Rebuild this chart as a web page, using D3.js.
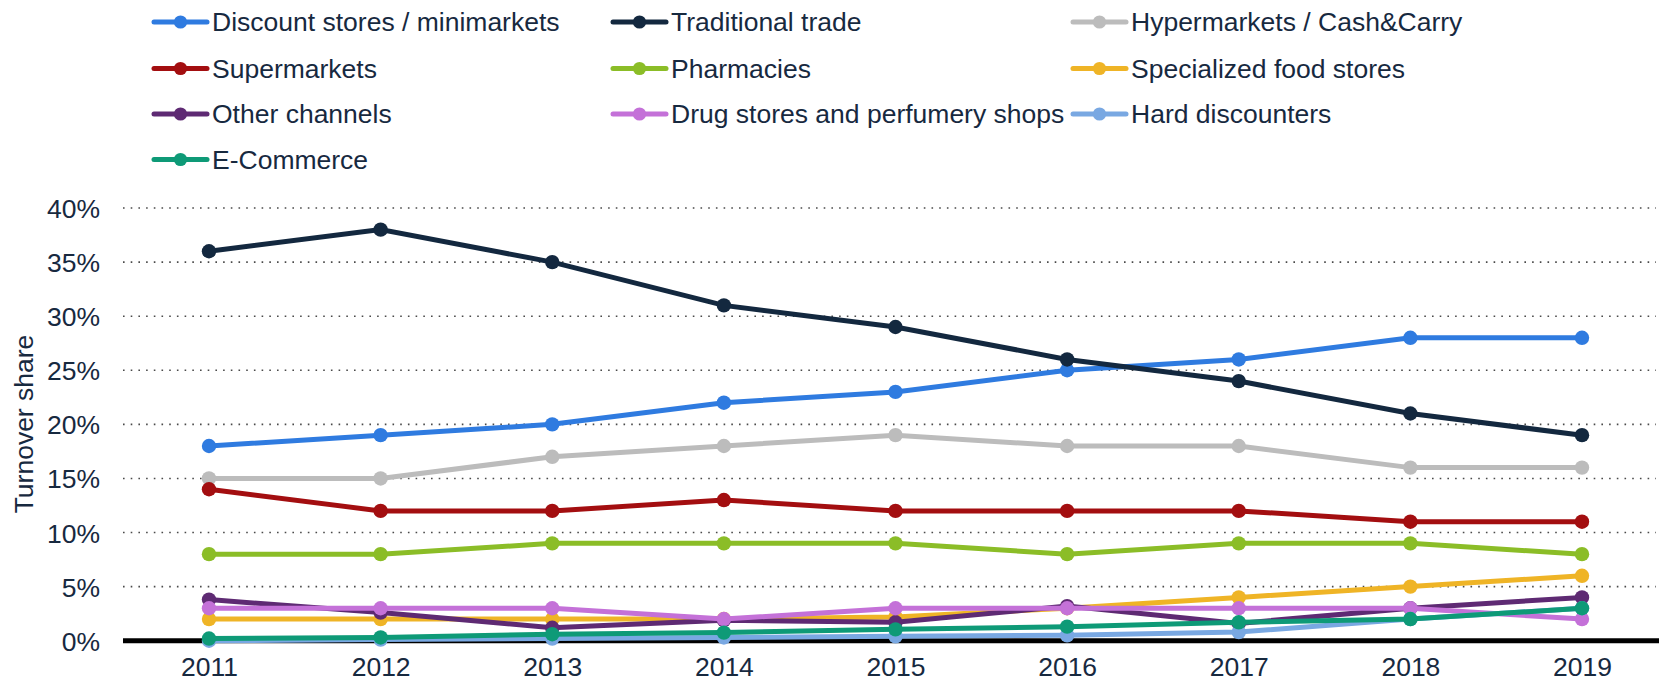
<!DOCTYPE html>
<html>
<head>
<meta charset="utf-8">
<script src="https://cdn.jsdelivr.net/npm/d3@7"></script>
<style>
  body { margin: 0; background: #fff; }
  text { font-family: "Liberation Sans", Arial, sans-serif; fill: #17293f; }
</style>
</head>
<body>
<div id="chart"></div>
<script>
var years = [2011, 2012, 2013, 2014, 2015, 2016, 2017, 2018, 2019];
var yTicks = [0, 5, 10, 15, 20, 25, 30, 35, 40];

var seriesNames = [
    "Discount stores / minimarkets", "Traditional trade", "Hypermarkets / Cash&Carry",
    "Supermarkets", "Pharmacies", "Specialized food stores",
    "Other channels", "Drug stores and perfumery shops", "Hard discounters",
    "E-Commerce"
];
var seriesColors = [
    "#2f7be0", "#13283f", "#bcbcbc",
    "#a30e10", "#8bbd27", "#efb426",
    "#5e2a73", "#c471d8", "#79a8e2",
    "#0e9a77"
];

var discountStores = [18, 19, 20, 22, 23, 25, 26, 28, 28];
var traditionalTrade = [36, 38, 35, 31, 29, 26, 24, 21, 19];
var hypermarkets = [15, 15, 17, 18, 19, 18, 18, 16, 16];
var supermarkets = [14, 12, 12, 13, 12, 12, 12, 11, 11];
var pharmacies = [8, 8, 9, 9, 9, 8, 9, 9, 8];
var specializedFood = [2, 2, 2, 2, 2.2, 3, 4, 5, 6];
var otherChannels = [3.8, 2.6, 1.2, 1.9, 1.7, 3.2, 1.6, 3, 4];
var drugStores = [3, 3, 3, 2, 3, 3, 3, 3, 2];
var hardDiscounters = [0, 0.1, 0.2, 0.3, 0.4, 0.5, 0.8, 2, 3];
var eCommerce = [0.2, 0.3, 0.6, 0.75, 1.05, 1.3, 1.7, 2, 3];

var allValues = [discountStores, traditionalTrade, hypermarkets, supermarkets, pharmacies,
    specializedFood, otherChannels, drugStores, hardDiscounters, eCommerce];

var W = 1659, H = 683;
var svg = d3.select("#chart").append("svg")
    .attr("width", W)
    .attr("height", H);

var x = d3.scalePoint()
    .domain(years)
    .range([209, 1582]);

var y = d3.scaleLinear()
    .domain([0, 40])
    .range([640.7, 208]);

// dotted gridlines
svg.append("g")
    .selectAll("line")
    .data(yTicks.filter(function(d) { return d > 0; }))
    .enter().append("line")
    .attr("x1", 123)
    .attr("x2", 1656)
    .attr("y1", function(d) { return y(d); })
    .attr("y2", function(d) { return y(d); })
    .attr("stroke", "#4a4a4a")
    .attr("stroke-width", 1.6)
    .attr("stroke-dasharray", "1.6,6.1");

// y axis labels
var yAxis = d3.axisLeft(y)
    .tickValues(yTicks)
    .tickFormat(function(d) { return d + "%"; })
    .tickSize(0)
    .tickPadding(0);
var yg = svg.append("g")
    .attr("transform", "translate(100,1)")
    .call(yAxis);
yg.select(".domain").remove();
yg.selectAll("text")
    .attr("font-size", 26.5)
    .attr("font-family", "Liberation Sans, Arial, sans-serif")
    .attr("fill", "#17293f");

// x axis labels
var xAxis = d3.axisBottom(x).tickSize(0).tickPadding(0);
var xg = svg.append("g")
    .attr("transform", "translate(0,657)")
    .call(xAxis);
xg.select(".domain").remove();
xg.selectAll("text")
    .attr("font-size", 26.5)
    .attr("font-family", "Liberation Sans, Arial, sans-serif")
    .attr("fill", "#17293f");

// axis title
svg.append("text")
    .attr("transform", "translate(33,424) rotate(-90)")
    .attr("text-anchor", "middle")
    .attr("font-size", 26.5)
    .text("Turnover share");

// baseline
svg.append("line")
    .attr("x1", 123)
    .attr("x2", 1659)
    .attr("y1", y(0))
    .attr("y2", y(0))
    .attr("stroke", "#000")
    .attr("stroke-width", 5);

var line = d3.line()
    .x(function(d, i) { return x(years[i]); })
    .y(function(d) { return y(d); });

allValues.forEach(function(vals, k) {
    var g = svg.append("g");
    g.append("path")
        .attr("d", line(vals))
        .attr("fill", "none")
        .attr("stroke", seriesColors[k])
        .attr("stroke-width", 5);
    g.selectAll("circle")
        .data(vals)
        .enter().append("circle")
        .attr("cx", function(d, i) { return x(years[i]); })
        .attr("cy", function(d) { return y(d); })
        .attr("r", 7.2)
        .attr("fill", seriesColors[k]);
});

// legend
var legendCols = [154, 613, 1073];
var legendRows = [22, 68.5, 114, 159.5];
var lg = svg.append("g");
seriesNames.forEach(function(name, k) {
    var lx = legendCols[k % 3], ly = legendRows[Math.floor(k / 3)];
    lg.append("line")
        .attr("x1", lx).attr("x2", lx + 53)
        .attr("y1", ly).attr("y2", ly)
        .attr("stroke", seriesColors[k])
        .attr("stroke-width", 5)
        .attr("stroke-linecap", "round");
    lg.append("circle")
        .attr("cx", lx + 26.5).attr("cy", ly)
        .attr("r", 6.6)
        .attr("fill", seriesColors[k]);
    lg.append("text")
        .attr("x", lx + 58)
        .attr("y", ly)
        .attr("dy", "0.35em")
        .attr("font-size", 26.5)
        .text(name);
});
</script>
</body>
</html>
